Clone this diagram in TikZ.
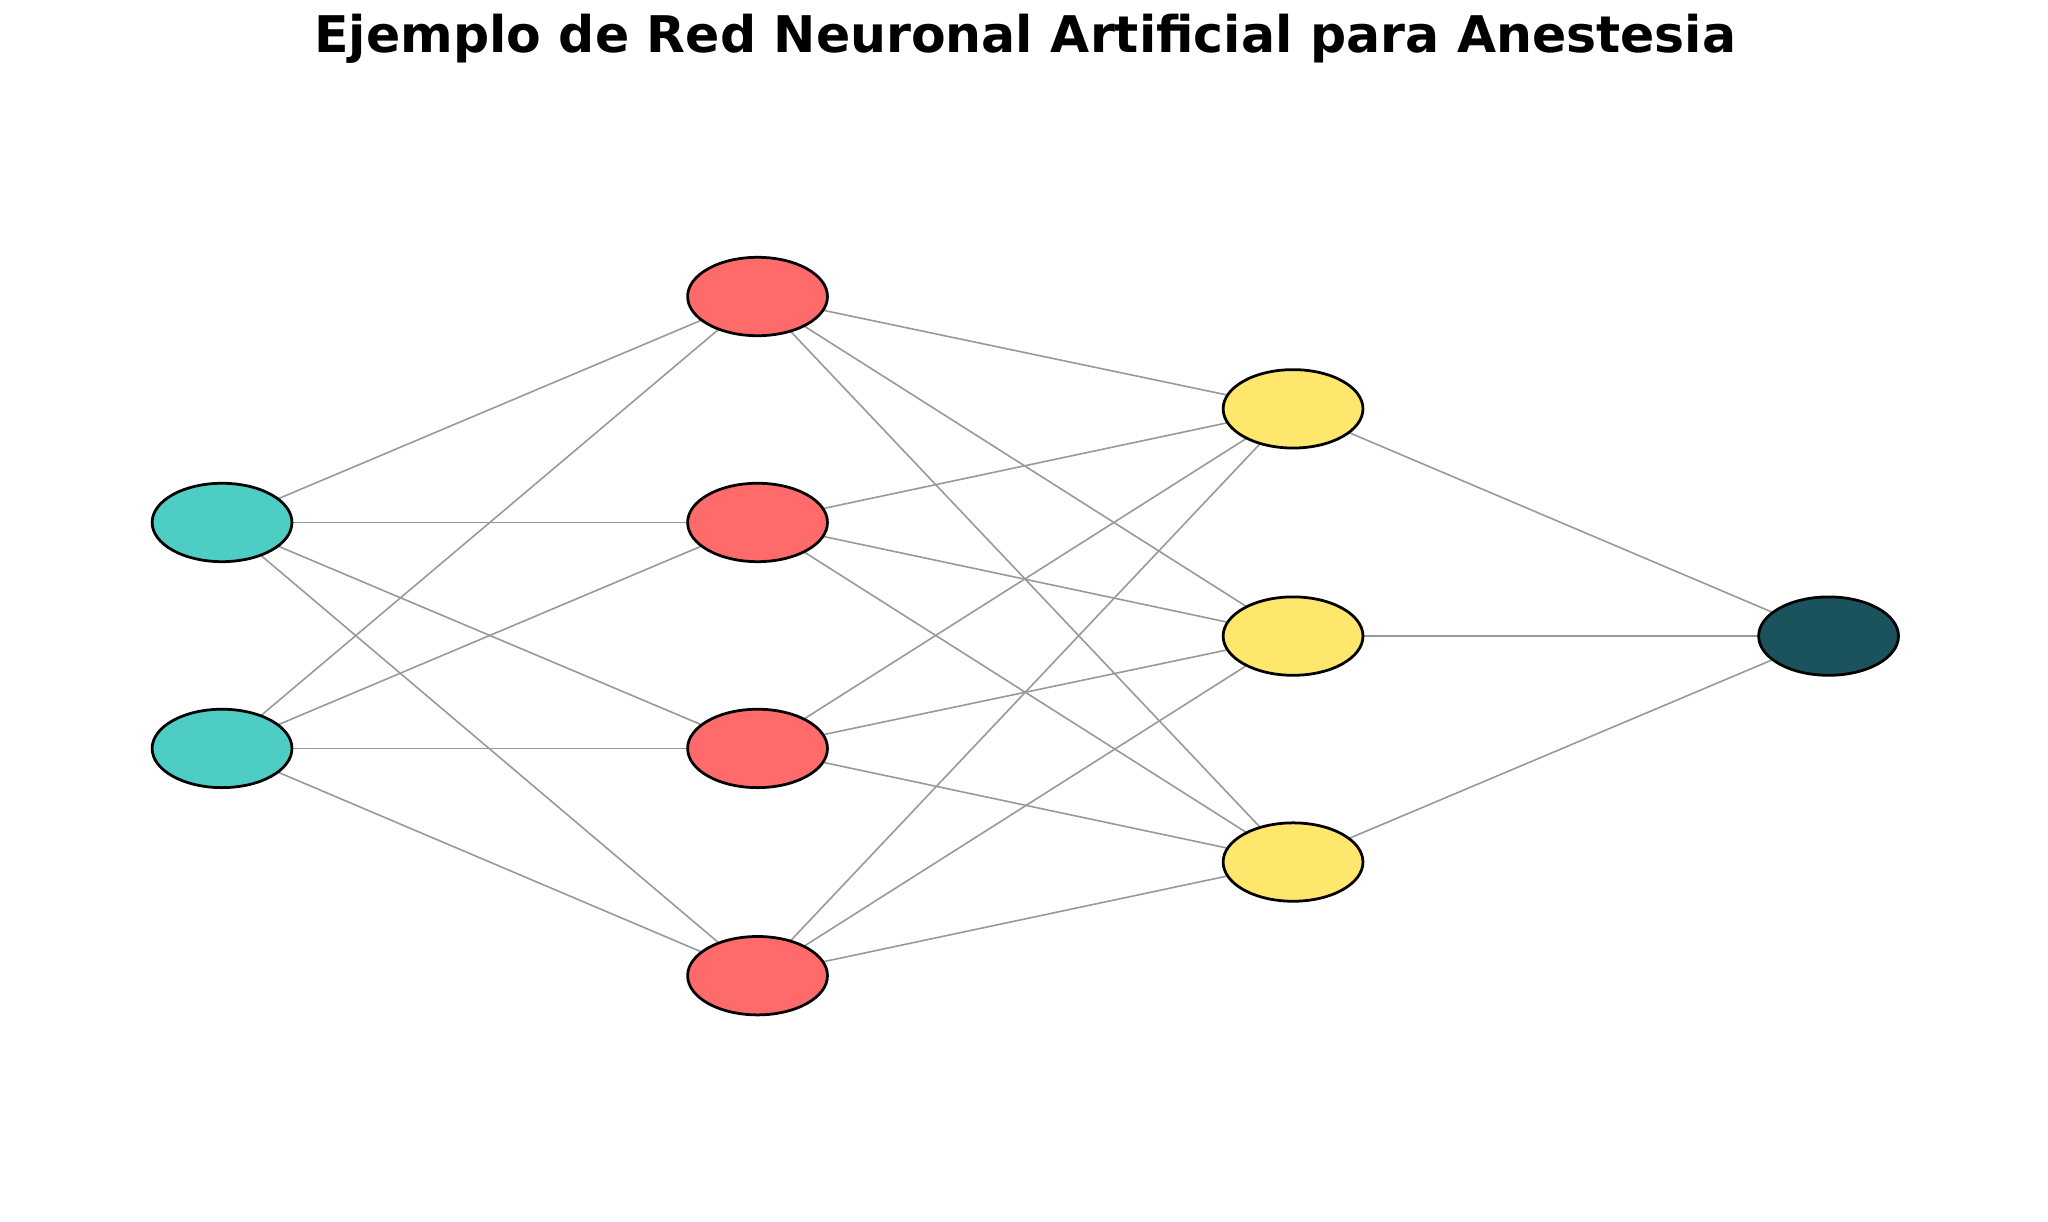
\documentclass[tikz,border=0pt]{standalone}
\usepackage{fontspec}
\setmainfont{DejaVu Sans}
\usetikzlibrary{shapes.geometric,backgrounds}
\definecolor{cin}{HTML}{4ECDC4}
\definecolor{chid}{HTML}{FF6B6B}
\definecolor{chid2}{HTML}{FFE66D}
\definecolor{cout}{HTML}{1A535C}
\tikzset{neuron/.style={ellipse,draw=black,line width=0.6pt,minimum width=1.07cm,minimum height=0.6cm,inner sep=0pt},
edge/.style={draw=gray!80,line width=0.35pt}}
\begin{document}
\begin{tikzpicture}[x=0.01cm,y=-0.01cm]
\useasboundingbox (0,0) rectangle (1568,935);
\node[font=\bfseries\fontsize{11}{13}\selectfont] (title) at (785,30) {Ejemplo de Red Neuronal Artificial para Anestesia};
\node[neuron,fill=cin] (i1) at (170,400) {};
\node[neuron,fill=cin] (i2) at (170,573) {};
\node[neuron,fill=chid] (h1) at (580,227) {};
\node[neuron,fill=chid] (h2) at (580,400) {};
\node[neuron,fill=chid] (h3) at (580,573) {};
\node[neuron,fill=chid] (h4) at (580,747) {};
\node[neuron,fill=chid2] (g1) at (990,313) {};
\node[neuron,fill=chid2] (g2) at (990,487) {};
\node[neuron,fill=chid2] (g3) at (990,660) {};
\node[neuron,fill=cout] (o) at (1400,487) {};
\begin{scope}[on background layer]
\foreach \a in {i1,i2}\foreach \b in {h1,h2,h3,h4} \draw[edge] (\a.center)--(\b.center);
\foreach \a in {h1,h2,h3,h4}\foreach \b in {g1,g2,g3} \draw[edge] (\a.center)--(\b.center);
\foreach \a in {g1,g2,g3} \draw[edge] (\a.center)--(o.center);
\end{scope}
\end{tikzpicture}
\end{document}
